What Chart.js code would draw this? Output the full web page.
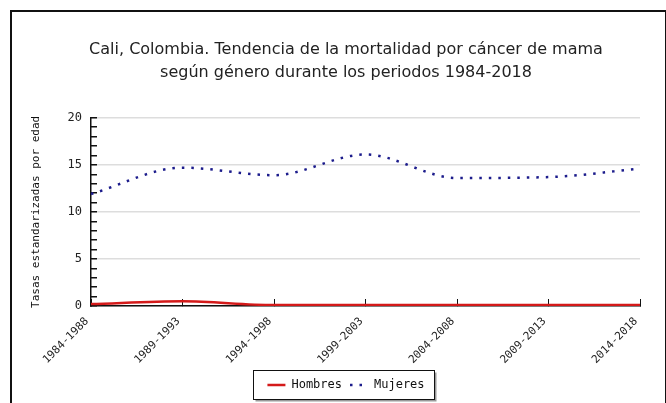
<!DOCTYPE html>
<html>
<head>
<meta charset="utf-8">
<script src="https://cdn.jsdelivr.net/npm/chart.js@4"></script>
<style>
  html, body { margin: 0; padding: 0; background: #fff; overflow: hidden; }
  #frame { position: absolute; left: 10px; top: 10px; width: 653px; height: 420px;
           border: 2px solid #111; border-bottom: none; }
  #myChart { position: absolute; left: 0; top: 0; }
</style>
</head>
<body>
<div id="frame"></div>
<canvas id="myChart" width="666" height="403"></canvas>
<script>
var periodos = ["1984-1988", "1989-1993", "1994-1998", "1999-2003", "2004-2008", "2009-2013", "2014-2018"];
var hombres = [0.2, 0.5, 0.1, 0.1, 0.1, 0.1, 0.1];
var mujeres = [11.9, 14.7, 13.9, 16.1, 13.6, 13.7, 14.6];
var yTicks = [0, 5, 10, 15, 20];

var mono = "'DejaVu Sans Mono', monospace";

// legend frame with a small shadow, sized from the legend's own hit boxes
var legendFrame = {
  id: 'legendFrame',
  beforeDraw: function(chart) {
    var boxes = chart.legend.legendHitBoxes;
    if (!boxes || !boxes.length) return;
    var l = Infinity, r = -Infinity, t = Infinity, b = -Infinity;
    boxes.forEach(function(h) {
      l = Math.min(l, h.left); r = Math.max(r, h.left + h.width);
      t = Math.min(t, h.top); b = Math.max(b, h.top + h.height);
    });
    var x = Math.round(l - 14) + 0.5, y = Math.round(t - 9) + 0.5;
    var w = Math.round(r - l + 24), h = Math.round(b - t + 17);
    var ctx = chart.ctx;
    ctx.save();
    ctx.fillStyle = '#999';
    ctx.fillRect(x + 2, y + 2, w, h);
    ctx.fillStyle = '#fff';
    ctx.fillRect(x, y, w, h);
    ctx.strokeStyle = '#111';
    ctx.lineWidth = 1;
    ctx.strokeRect(x, y, w, h);
    ctx.restore();
  }
};

var ctx = document.getElementById("myChart");
var myLineChart = new Chart(ctx, {
  type: 'line',
  data: {
    labels: periodos,
    datasets: [
      {
        label: "Hombres",
        data: hombres,
        borderColor: "#d41a1a",
        backgroundColor: "#d41a1a",
        borderWidth: 2.5,
        pointRadius: 0,
        cubicInterpolationMode: 'monotone',
        fill: false
      },
      {
        label: "Mujeres",
        data: mujeres,
        borderColor: "#1c1c8c",
        backgroundColor: "#1c1c8c",
        borderWidth: 2.5,
        borderDash: [2.5, 7],
        pointRadius: 0,
        cubicInterpolationMode: 'monotone',
        fill: false
      }
    ]
  },
  options: {
    responsive: false,
    animation: false,
    devicePixelRatio: 1,
    layout: { padding: { left: 52, right: 26, top: 0, bottom: 2 } },
    plugins: {
      title: {
        display: true,
        text: ["Cali, Colombia. Tendencia de la mortalidad por cáncer de mama",
               "según género durante los periodos 1984-2018"],
        color: '#222',
        font: { family: "'DejaVu Sans', sans-serif", size: 16, weight: 'normal', lineHeight: 1.4 },
        padding: { top: 39, bottom: 34 }
      },
      legend: {
        display: true,
        position: 'bottom',
        labels: {
          usePointStyle: true,
          pointStyle: 'line',
          pointStyleWidth: 18,
          boxHeight: 10,
          color: '#111',
          padding: 8,
          font: { family: mono, size: 12 },
          generateLabels: function(chart) {
            var items = Chart.defaults.plugins.legend.labels.generateLabels(chart);
            items.forEach(function(it) {
              var ds = chart.data.datasets[it.datasetIndex];
              it.lineDash = ds.borderDash || [];
              it.lineWidth = ds.borderWidth;
              it.strokeStyle = ds.borderColor;
            });
            return items;
          }
        }
      },
      tooltip: { enabled: false }
    },
    scales: {
      x: {
        offset: false,
        grid: { drawOnChartArea: false, drawTicks: true, tickLength: -7, tickColor: '#111' },
        border: { color: '#111', width: 1.5 },
        ticks: {
          color: '#222',
          font: { family: mono, size: 11 },
          minRotation: 45, maxRotation: 45,
          padding: 16,
          labelOffset: -4,
          autoSkip: false
        },
        afterFit: function(s) {
          var lh = (s.chart.legend && s.chart.legend.height) || 34;
          s.height = 403 - 2 - lh - 306;
        }
      },
      y: {
        min: 0, max: 20,
        grid: {
          color: function(c) { return (c.tick && yTicks.indexOf(c.tick.value) >= 0) ? '#dddddd' : 'rgba(0,0,0,0)'; },
          tickColor: '#111',
          tickLength: -6,
          lineWidth: 1.5
        },
        border: { color: '#111', width: 1.5 },
        ticks: {
          stepSize: 1,
          autoSkip: false,
          padding: 15,
          color: '#222',
          font: { family: mono, size: 12 },
          callback: function(v) { return yTicks.indexOf(v) >= 0 ? String(v) : ''; }
        },
        title: {
          display: true,
          text: 'Tasas estandarizadas por edad',
          color: '#111',
          font: { family: mono, size: 11 },
          padding: { top: -22, bottom: 0 }
        },
        afterFit: function(s) { s.width = 39; }
      }
    }
  },
  plugins: [legendFrame]
});
</script>
</body>
</html>
